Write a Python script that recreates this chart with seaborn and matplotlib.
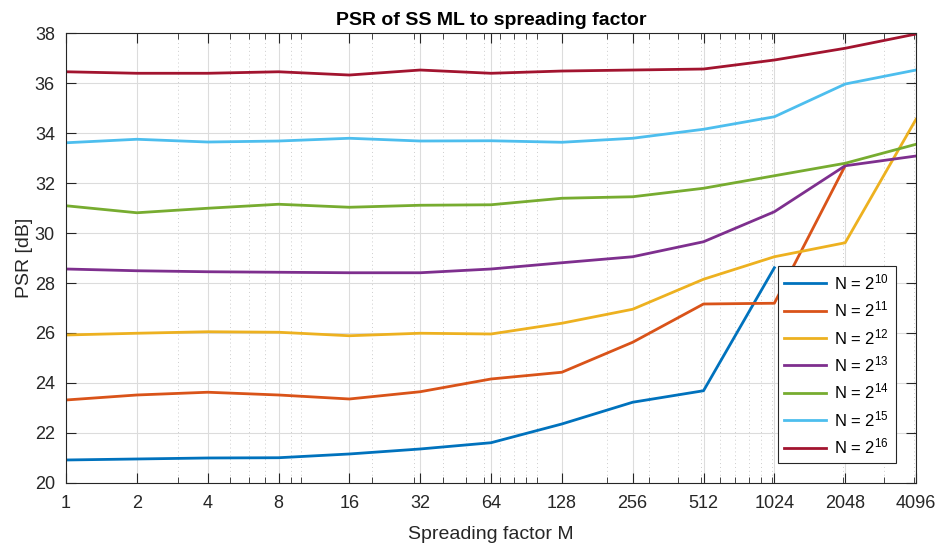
import numpy as np
import pandas as pd
import seaborn as sns
import matplotlib
matplotlib.use("Agg")
import matplotlib.pyplot as plt
from matplotlib.ticker import FixedLocator, FixedFormatter, LogLocator, NullFormatter

# Spreading factors (M) and PSR curves for each block length N = 2^k
spreading = [1, 2, 4, 8, 16, 32, 64, 128, 256, 512, 1024, 2048, 4096]
psr_n10 = [20.92, 20.96, 21.00, 21.01, 21.16, 21.36, 21.61, 22.36, 23.23, 23.69, 28.61]
psr_n11 = [23.32, 23.52, 23.63, 23.52, 23.36, 23.65, 24.16, 24.43, 25.63, 27.16, 27.19, 32.69]
psr_n12 = [25.92, 25.99, 26.05, 26.03, 25.89, 25.99, 25.96, 26.39, 26.95, 28.15, 29.05, 29.61, 34.55]
psr_n13 = [28.56, 28.49, 28.45, 28.43, 28.41, 28.41, 28.56, 28.81, 29.05, 29.65, 30.85, 32.69, 33.08]
psr_n14 = [31.09, 30.81, 30.99, 31.15, 31.03, 31.11, 31.13, 31.39, 31.45, 31.79, 32.29, 32.79, 33.55]
psr_n15 = [33.61, 33.75, 33.64, 33.68, 33.79, 33.68, 33.69, 33.63, 33.79, 34.15, 34.65, 35.96, 36.52]
psr_n16 = [36.45, 36.39, 36.39, 36.45, 36.32, 36.52, 36.39, 36.48, 36.52, 36.56, 36.92, 37.39, 37.96]

exponents = [10, 11, 12, 13, 14, 15, 16]
series = [psr_n10, psr_n11, psr_n12, psr_n13, psr_n14, psr_n15, psr_n16]
labels = [rf"N = 2$^{{{e}}}$" for e in exponents]
colors = ["#0072BD", "#D95319", "#EDB120", "#7E2F8E", "#77AC30", "#4DBEEE", "#A2142F"]
yticks = [20, 22, 24, 26, 28, 30, 32, 34, 36, 38]

rows = []
for lab, vals in zip(labels, series):
    for m, v in zip(spreading, vals):
        rows.append({"M": m, "PSR": v, "N": lab})
df = pd.DataFrame(rows)

plt.rcParams["font.family"] = ["Liberation Sans", "DejaVu Sans"]
plt.rcParams["mathtext.fontset"] = "custom"
plt.rcParams["mathtext.rm"] = "Liberation Sans"
plt.rcParams["mathtext.it"] = "Liberation Sans:italic"
plt.rcParams["mathtext.bf"] = "Liberation Sans:bold"

fig = plt.figure(figsize=(9.42, 5.45), dpi=100)
ax = fig.add_axes([0.0701, 0.1138, 0.9023, 0.8256])

sns.lineplot(data=df, x="M", y="PSR", hue="N", hue_order=labels,
             palette=colors, linewidth=2.0, ax=ax, legend=False, sort=False)

ax.set_xscale("log")
ax.set_xlim(1, 4096)
ax.set_ylim(20, 38)

ax.xaxis.set_major_locator(FixedLocator(spreading))
ax.xaxis.set_major_formatter(FixedFormatter([str(s) for s in spreading]))
ax.xaxis.set_minor_locator(LogLocator(base=10, subs=np.arange(1, 10), numticks=20))
ax.xaxis.set_minor_formatter(NullFormatter())
ax.set_yticks(yticks)
ax.set_yticklabels([str(t) for t in yticks])

ink = "#262626"
ax.tick_params(which="major", direction="in", length=7, width=0.8, top=True, right=True,
               colors=ink, labelsize=13)
ax.tick_params(axis="x", which="major", pad=9)
ax.tick_params(axis="y", which="major", pad=8)
ax.tick_params(which="minor", direction="in", length=4, width=0.6, top=True, right=False,
               colors=ink)
for sp in ax.spines.values():
    sp.set_color(ink)
    sp.set_linewidth(0.8)

ax.grid(True, which="major", color="#DCDCDC", linewidth=0.8)
ax.grid(True, which="minor", axis="x", color="#CDCDCD", linewidth=0.7, linestyle=(0, (1, 3)))
ax.set_axisbelow(True)

ax.set_title("PSR of SS ML to spreading factor", fontsize=14, fontweight="bold", color="black", pad=6)
ax.set_xlabel("Spreading factor M", fontsize=14, color=ink, labelpad=9.5)
ax.set_ylabel("PSR [dB]", fontsize=14, color=ink, labelpad=1.5)

handles = ax.get_lines()[:len(labels)]
leg = ax.legend(handles, labels, loc="lower right", bbox_to_anchor=(0.9765, 0.044),
                borderaxespad=0, fontsize=12, frameon=True, fancybox=False, edgecolor=ink,
                handlelength=2.5, labelspacing=0.45, borderpad=0.4, handletextpad=0.5)
leg.get_frame().set_linewidth(0.8)
leg.get_frame().set_facecolor("white")
leg.get_frame().set_alpha(1.0)

fig.savefig("out.png", dpi=100)
